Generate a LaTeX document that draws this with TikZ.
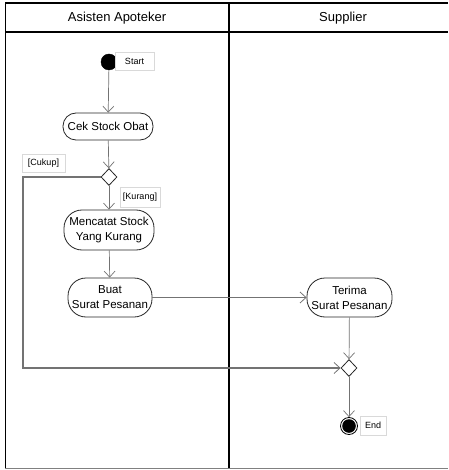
\documentclass[tikz,border=0pt]{standalone}
\usepackage{fontspec}
\setmainfont{Liberation Sans}
\usetikzlibrary{arrows.meta,shapes.geometric}
\begin{document}
\begin{tikzpicture}[x=1pt,y=-1pt,
  act/.style={draw=black!85,line width=0.8pt,fill=white,rectangle,inner sep=0pt,align=center,
    font=\fontsize{11.5}{15}\selectfont},
  lbl/.style={draw=black!15,line width=0.6pt,fill=white,inner sep=0pt,font=\fontsize{9}{10}\selectfont,minimum height=18pt},
  dec/.style={draw=black!85,line width=0.8pt,fill=white,diamond,inner sep=0pt,minimum width=16pt,minimum height=17pt},
  flow/.style={draw=black!55,line width=0.7pt,-{Straight Barb[length=6pt,width=11pt]}},
  flowb/.style={draw=black!55,line width=1.1pt,-{Straight Barb[length=6pt,width=11pt,line width=0.8pt]}},
  frameline/.style={draw=black,line width=1.4pt}]
\useasboundingbox (0,0) rectangle (448,470);
% swimlane frame
\draw[frameline,line width=2pt] (5,3) -- (448,3);
\draw[frameline,line width=2pt] (5,32) -- (448,32);
\draw[frameline] (5.5,3) -- (5.5,468.5);
\draw[frameline] (229,3) -- (229,468.5);
\draw[draw=black!50,line width=1.5pt] (5,468.5) -- (448,468.5);
\node[font=\fontsize{13}{14}\selectfont] (hA) at (117,18) {Asisten Apoteker};
\node[font=\fontsize{13}{14}\selectfont] (hS) at (343,18) {Supplier};
% nodes
\node[circle,fill=black,draw=black,minimum size=16pt,inner sep=0pt] (start) at (109,62) {};
\node[lbl,minimum width=39pt] (startl) at (134.5,61) {Start};
\node[act,minimum width=90pt,minimum height=27pt,rounded corners=13pt] (cek) at (108,126.5) {Cek Stock Obat};
\node[dec] (d1) at (109,177) {};
\node[lbl,minimum width=43pt] (cukup) at (43.5,163) {[Cukup]};
\node[lbl,minimum width=40pt,minimum height=20pt] (kurang) at (140,197) {[Kurang]};
\node[act,minimum width=90pt,minimum height=40pt,rounded corners=18pt] (catat) at (109,230) {Mencatat Stock\\Yang Kurang};
\node[act,minimum width=84pt,minimum height=39pt,rounded corners=18pt] (buat) at (110,297.5) {Buat\\Surat Pesanan};
\node[act,minimum width=85pt,minimum height=39pt,rounded corners=18pt] (terima) at (349.5,297.5) {Terima\\Surat Pesanan};
\node[dec] (d2) at (349,368) {};
\node[circle,draw=black,line width=0.8pt,minimum size=17pt,inner sep=0pt] (end) at (349,426) {};
\fill[black] (end.center) circle (6.8pt);
\node[lbl,minimum width=26pt,minimum height=19pt] (endl) at (373,425.5) {End};
\coordinate (c1) at (23,177);
\coordinate (c2) at (23,368);
% connectors
\draw[flow] (start) -- (cek);
\draw[flow] (cek) -- (d1);
\draw[flow] (d1) -- (catat);
\draw[flow] (catat) -- (buat);
\draw[flowb] (buat) -- (terima);
\draw[flow] (terima) -- (d2);
\draw[flow] (d2) -- (end);
\draw[flowb] (d1.west) -- (c1) -- (c2) -- (d2.west);
\end{tikzpicture}
\end{document}
